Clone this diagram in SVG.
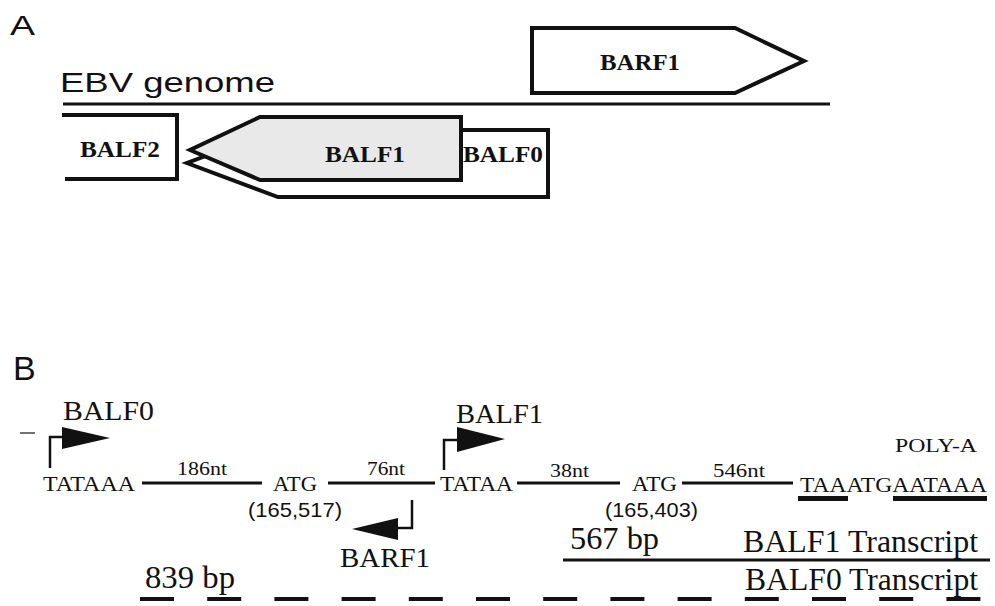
<svg xmlns="http://www.w3.org/2000/svg" width="995" height="606" viewBox="0 0 995 606">
<style>
.sans{font-family:"Liberation Sans",Arial,sans-serif;fill:#111}
.serif{font-family:"Liberation Serif","Times New Roman",serif;fill:#111}
.bold{font-weight:bold;font-size:24px}
.gene{stroke:#111;stroke-width:4;stroke-linejoin:miter}
.ln{stroke:#111;stroke-width:3;fill:none}
.prom{stroke:#111;stroke-width:2.5;fill:none}
.head{fill:#111}
.seq{font-size:21px}
.nt{font-size:19px}
.big{font-size:28px}
.xl{font-size:31px}
.bar{fill:#111}
</style>
<rect width="995" height="606" fill="#fff"/>

<!-- Panel A -->
<text class="sans" x="10" y="35" font-size="28" textLength="25" lengthAdjust="spacingAndGlyphs">A</text>
<g id="genome">
  <text class="sans" x="60" y="92" font-size="28" textLength="215" lengthAdjust="spacingAndGlyphs">EBV genome</text>
  <line class="ln" x1="63" y1="104" x2="830" y2="104"/>
</g>
<g id="BARF1-gene">
  <polygon class="gene" points="532,28 735,28 804,61 735,93 532,93" fill="#fff"/>
  <text class="serif bold" x="600" y="70" textLength="80" lengthAdjust="spacingAndGlyphs">BARF1</text>
</g>
<g id="BALF2-gene">
  <path class="gene" d="M62,115 H177 V179 H65" fill="none"/>
  <text class="serif bold" x="80" y="157" textLength="80" lengthAdjust="spacingAndGlyphs">BALF2</text>
</g>
<g id="BALF0-gene">
  <polygon class="gene" points="548,130 548,197 278,197 187,163 275,130" fill="#fff"/>
</g>
<g id="BALF1-gene">
  <polygon class="gene" points="461,117 260,117 190,150 260,180 461,180" fill="#e9e9e9"/>
  <text class="serif bold" x="325" y="162" textLength="80" lengthAdjust="spacingAndGlyphs">BALF1</text>
</g>
<g id="BALF0-label">
  <text class="serif bold" x="463" y="162" textLength="80" lengthAdjust="spacingAndGlyphs">BALF0</text>
</g>

<!-- Panel B -->
<text class="sans" x="13" y="380" font-size="34">B</text>
<line x1="20" y1="433" x2="35" y2="433" stroke="#444" stroke-width="1.5"/>

<g id="promoter-BALF0">
  <path class="prom" d="M50,468 V437 H62"/>
  <polygon class="head" points="62,427 62,449 110,438"/>
  <text class="serif big" x="63" y="420" textLength="91" lengthAdjust="spacingAndGlyphs">BALF0</text>
</g>
<g id="promoter-BARF1">
  <path class="prom" d="M412,500 V528 H398"/>
  <polygon class="head" points="398,518 398,540 352,529"/>
  <text class="serif big" x="340" y="567" textLength="90" lengthAdjust="spacingAndGlyphs">BARF1</text>
</g>
<g id="promoter-BALF1">
  <path class="prom" d="M444,470 V440 H457"/>
  <polygon class="head" points="457,427 457,452 505,439"/>
  <text class="serif big" x="456" y="423" textLength="87" lengthAdjust="spacingAndGlyphs">BALF1</text>
</g>

<g id="tata1"><text class="serif seq" x="43" y="491" textLength="92" lengthAdjust="spacingAndGlyphs">TATAAA</text></g>
<g id="atg1">
  <text class="serif seq" x="273" y="491" textLength="44" lengthAdjust="spacingAndGlyphs">ATG</text>
  <text class="sans" x="248" y="517" font-size="21" textLength="94" lengthAdjust="spacingAndGlyphs">(165,517)</text>
</g>
<g id="tata2"><text class="serif seq" x="440" y="491" textLength="73" lengthAdjust="spacingAndGlyphs">TATAA</text></g>
<g id="atg2">
  <text class="serif seq" x="632" y="491" textLength="45" lengthAdjust="spacingAndGlyphs">ATG</text>
  <text class="sans" x="605" y="517" font-size="21" textLength="93" lengthAdjust="spacingAndGlyphs">(165,403)</text>
</g>
<g id="polyA">
  <text class="serif" x="895" y="452" font-size="19" textLength="82" lengthAdjust="spacingAndGlyphs">POLY-A</text>
  <text class="serif seq" x="800" y="492" textLength="187" lengthAdjust="spacingAndGlyphs">TAAATGAATAAA</text>
  <rect class="bar" x="798" y="496" width="50" height="5"/>
  <rect class="bar" x="893" y="496" width="94" height="5"/>
</g>

<g id="BALF1-transcript">
  <text class="serif xl" x="570" y="549" textLength="89" lengthAdjust="spacingAndGlyphs">567 bp</text>
  <text class="serif xl" x="743" y="552" textLength="235" lengthAdjust="spacingAndGlyphs">BALF1 Transcript</text>
</g>
<g id="BALF0-transcript">
  <text class="serif xl" x="145" y="588" textLength="90" lengthAdjust="spacingAndGlyphs">839 bp</text>
  <text class="serif xl" x="745" y="590" textLength="233" lengthAdjust="spacingAndGlyphs">BALF0 Transcript</text>
</g>

<g id="connectors">
  <line class="ln" x1="142" y1="483" x2="262" y2="483"/>
  <text class="serif nt" x="177" y="475" textLength="50" lengthAdjust="spacingAndGlyphs">186nt</text>
  <line class="ln" x1="328" y1="483" x2="435" y2="483"/>
  <text class="serif nt" x="367" y="475" textLength="38" lengthAdjust="spacingAndGlyphs">76nt</text>
  <line class="ln" x1="517" y1="483" x2="620" y2="483"/>
  <text class="serif nt" x="550" y="477" textLength="39" lengthAdjust="spacingAndGlyphs">38nt</text>
  <line class="ln" x1="682" y1="483" x2="793" y2="483"/>
  <text class="serif nt" x="713" y="477" textLength="52" lengthAdjust="spacingAndGlyphs">546nt</text>
  <line class="ln" x1="563" y1="560" x2="990" y2="560"/>
  <line x1="140" y1="599" x2="981" y2="599" stroke="#111" stroke-width="4" stroke-dasharray="34 33.2"/>
</g>
</svg>
